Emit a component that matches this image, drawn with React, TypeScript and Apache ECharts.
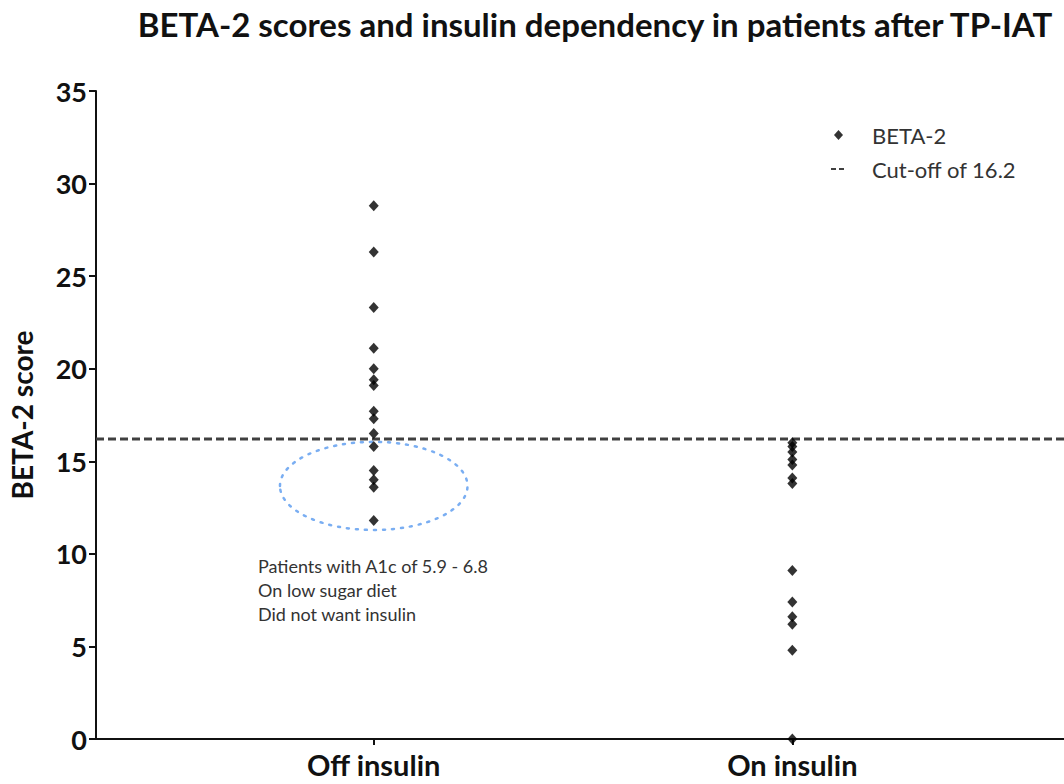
import React, { useEffect, useRef } from "react";
import * as echarts from "echarts";

const categories = ["Off insulin", "On insulin"];
const offInsulin = [28.8, 26.3, 23.3, 21.1, 20.0, 19.4, 19.1, 17.7, 17.3, 16.5, 15.8, 14.5, 14.0, 13.6, 11.8];
const onInsulin = [16.0, 15.8, 15.5, 15.1, 14.8, 14.1, 13.8, 9.1, 7.4, 6.6, 6.2, 4.8, 0];
const cutOff = 16.2;
const yTicks = [0, 5, 10, 15, 20, 25, 30, 35];
// highlighted group (ellipse): [category position, centre y, x-radius, y-radius]
const highlight = [[1, 13.67, 0.224, 2.38]];
const annotation = ["Patients with A1c of 5.9 - 6.8", "On low sugar diet", "Did not want insulin"];

const X_MIN = 0.3365;
const X_MAX = 2.649;

export default function App() {
  const ref = useRef<HTMLDivElement>(null);
  useEffect(() => {
    document.body.style.margin = "0";
    const chart = echarts.init(ref.current!, null, { renderer: "svg" });
    const scatterData = [
      ...offInsulin.map((v) => [1, v]),
      ...onInsulin.map((v) => [2, v]),
    ];
    const font = "Lato, 'Open Sans', sans-serif";
    chart.setOption({
      animation: false,
      backgroundColor: "#ffffff",
      title: {
        text: "BETA-2 scores and insulin dependency in patients after TP-IAT",
        left: 590,
        textAlign: "center",
        top: 2,
        textStyle: { fontFamily: font, fontWeight: "bold", fontSize: 33, color: "#111" },
      },
      legend: [
        {
          data: [{ name: "BETA-2", icon: "diamond" }],
          left: 834,
          top: 124,
          itemWidth: 9,
          itemHeight: 10,
          padding: 0,
          selectedMode: false,
          textStyle: { fontFamily: font, fontSize: 22, color: "#333", padding: [0, 0, 0, 24] },
        },
        {
          data: [{ name: "Cut-off of " + cutOff, icon: "path://M0,0h5v2h-5zM8,0h5v2h-5z" }],
          left: 831,
          top: 158,
          itemWidth: 13,
          itemHeight: 2,
          padding: 0,
          selectedMode: false,
          textStyle: { fontFamily: font, fontSize: 22, color: "#333", padding: [0, 0, 0, 23] },
        },
      ],
      grid: { left: 95, right: 0, top: 91, bottom: 45, containLabel: false },
      xAxis: {
        type: "value",
        min: X_MIN,
        max: X_MAX,
        splitLine: { show: false },
        axisLine: { show: true, onZero: false, lineStyle: { color: "#111", width: 2 } },
        axisTick: { show: true, customValues: [1, 2], length: 6, lineStyle: { color: "#111", width: 2 } },
        axisLabel: {
          customValues: [1, 2],
          formatter: (v: number) => categories[Math.round(v) - 1] ?? "",
          fontFamily: font,
          fontWeight: "bold",
          fontSize: 29,
          lineHeight: 30,
          color: "#111",
          margin: 10,
        },
      },
      yAxis: {
        type: "value",
        min: yTicks[0],
        max: yTicks[yTicks.length - 1],
        interval: 5,
        name: "BETA-2 score",
        nameLocation: "middle",
        nameGap: 60,
        nameTextStyle: { fontFamily: font, fontWeight: "bold", fontSize: 28, color: "#111" },
        splitLine: { show: false },
        axisLine: { show: true, lineStyle: { color: "#111", width: 2 } },
        axisTick: { show: true, length: 7, lineStyle: { color: "#111", width: 2 } },
        axisLabel: {
          fontFamily: font,
          fontWeight: "bold",
          fontSize: 27,
          color: "#111",
          margin: 9,
        },
      },
      series: [
        {
          name: "Cut-off of " + cutOff,
          type: "line",
          data: [[X_MIN, cutOff], [X_MAX, cutOff]],
          symbol: "none",
          itemStyle: { color: "#404040" },
          lineStyle: { color: "#404040", width: 3, type: [8, 4] },
          z: 1,
        },
        {
          name: "highlight",
          type: "custom",
          data: highlight,
          silent: true,
          z: 1,
          renderItem: (params: any, api: any) => {
            const c = api.coord([api.value(0), api.value(1)]);
            const s = api.size([api.value(2), api.value(3)]);
            return {
              type: "ellipse",
              shape: { cx: c[0], cy: c[1], rx: s[0], ry: s[1] },
              style: { fill: "none", stroke: "#7aaef2", lineWidth: 2.5, lineDash: [2, 7], lineCap: "round" },
            };
          },
        },
        {
          name: "BETA-2",
          type: "scatter",
          data: scatterData,
          symbol: "diamond",
          symbolSize: [10, 11],
          itemStyle: { color: "#000" },
          z: 3,
        },
      ],
      graphic: [
        {
          type: "text",
          left: 258,
          top: 554,
          style: {
            text: annotation.join("\n"),
            fontFamily: font,
            fontSize: 18,
            lineHeight: 24,
            fill: "#333",
          },
        },
      ],
    });
    return () => chart.dispose();
  }, []);
  return <div ref={ref} style={{ width: 1064, height: 784 }} />;
}
